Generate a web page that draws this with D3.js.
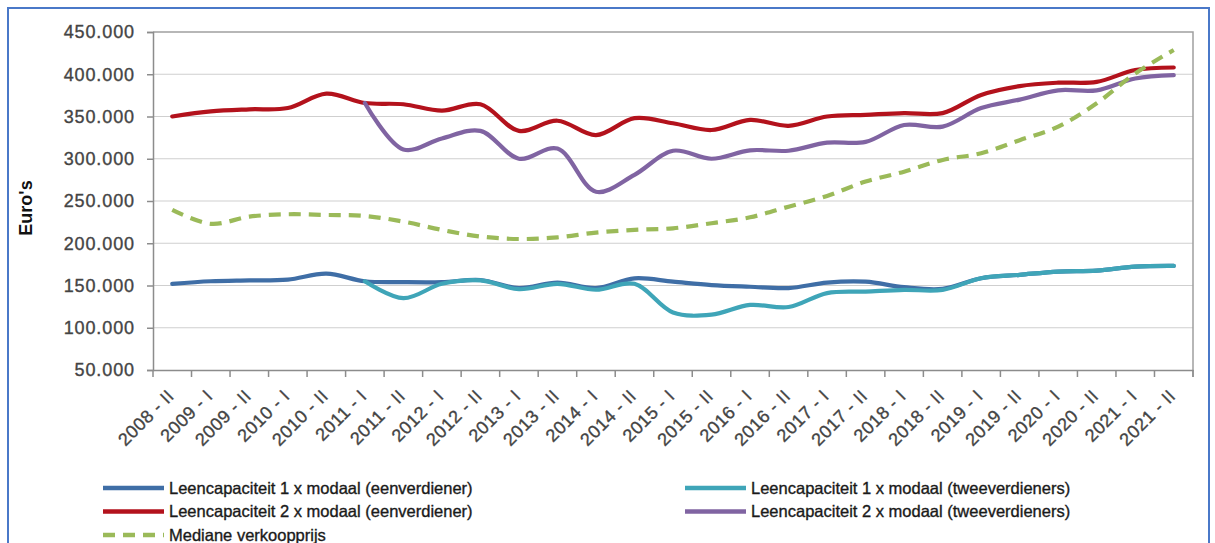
<!DOCTYPE html>
<html>
<head>
<meta charset="utf-8">
<script src="https://cdn.jsdelivr.net/npm/d3@7"></script>
<style>
  html, body { margin: 0; padding: 0; background: #fff; }
  svg { display: block; font-family: "Liberation Sans", Arial, sans-serif; }
</style>
</head>
<body>
<svg id="chart" width="1215" height="543"></svg>
<script>
// Half-year periods on the category axis
const periods = [
  "2008 - II", "2009 - I", "2009 - II", "2010 - I", "2010 - II", "2011 - I", "2011 - II",
  "2012 - I", "2012 - II", "2013 - I", "2013 - II", "2014 - I", "2014 - II", "2015 - I",
  "2015 - II", "2016 - I", "2016 - II", "2017 - I", "2017 - II", "2018 - I", "2018 - II",
  "2019 - I", "2019 - II", "2020 - I", "2020 - II", "2021 - I", "2021 - II"
];

// Borrowing capacity, one earner, 1x modal income
const leen1xEen = [152000, 155000, 156000, 157000, 164000, 155000, 154000, 154000, 156500,
  147000, 153500, 147000, 158500, 154500, 150500, 148500, 147000, 153500, 154500, 148000,
  146000, 158600, 162600, 166500, 167700, 172400, 173200];
// Borrowing capacity, two earners, 1x modal income (series starts 2011 - I)
const leen1xTwee = [null, null, null, null, null, 155000, 135000, 152000, 156000,
  145600, 152000, 145000, 152000, 118000, 115500, 127000, 124500, 141000, 142800, 144800,
  144800, 158600, 162600, 166500, 167700, 172400, 173200];
// Borrowing capacity, one earner, 2x modal income
const leen2xEen = [350000, 356000, 358500, 360000, 377000, 366000, 364500, 357000, 364500,
  333000, 345000, 328000, 348000, 342000, 334000, 346000, 339000, 350000, 352000, 354000,
  354000, 375500, 386000, 390000, 391000, 405000, 408000];
// Borrowing capacity, two earners, 2x modal income (series starts 2011 - I)
const leen2xTwee = [null, null, null, null, null, 366000, 311000, 324000, 333000,
  300000, 312000, 261000, 281000, 309500, 300000, 310000, 309500, 319000, 320000, 340000,
  338000, 360000, 370000, 381000, 381000, 395000, 399000];
// Median sales price
const medianePrijs = [239500, 223000, 231500, 234300, 233500, 232300, 225600, 215800, 208000,
  205000, 207000, 212600, 215800, 217700, 223700, 230700, 243300, 256000, 273000, 284700,
  298600, 306500, 322000, 338000, 365600, 401000, 428700];

const yTickValues = [50000, 100000, 150000, 200000, 250000, 300000, 350000, 400000, 450000];

const seriesNames = [
  "Leencapaciteit 1 x modaal (eenverdiener)",
  "Leencapaciteit 1 x modaal (tweeverdieners)",
  "Leencapaciteit 2 x modaal (eenverdiener)",
  "Leencapaciteit 2 x modaal (tweeverdieners)",
  "Mediane verkoopprijs"
];
const seriesColors = ["#3f6ea6", "#3fa5b8", "#b3121c", "#8064a2", "#9bba59"];

const allSeries = [
  { values: leen1xEen, color: seriesColors[0], dash: null },
  { values: leen1xTwee, color: seriesColors[1], dash: null },
  { values: leen2xEen, color: seriesColors[2], dash: null },
  { values: leen2xTwee, color: seriesColors[3], dash: null },
  { values: medianePrijs, color: seriesColors[4], dash: "12,8" }
];
// Later series sit on top where the lines overlap
const drawOrder = [2, 0, 3, 1, 4].map(i => allSeries[i]);

const svg = d3.select("#chart");

// Outer frame
svg.append("rect")
  .attr("x", 8).attr("y", 8).attr("width", 1201).attr("height", 560)
  .attr("fill", "none").attr("stroke", "#4a78c8").attr("stroke-width", 2);

const plot = { left: 153, right: 1193, top: 32, bottom: 370 };

const x = d3.scaleBand().domain(periods).range([plot.left, plot.right]).paddingInner(0).paddingOuter(0);
const y = d3.scaleLinear().domain([50000, 450000]).range([plot.bottom, plot.top]);

const nl = d3.formatLocale({ decimal: ",", thousands: ".", grouping: [3], currency: ["€", ""] });
const fmt = nl.format(",");

// Horizontal gridlines
svg.append("g")
  .selectAll("line")
  .data(yTickValues.filter(v => v > 50000 && v < 450000))
  .join("line")
  .attr("x1", plot.left).attr("x2", plot.right)
  .attr("y1", d => y(d)).attr("y2", d => y(d))
  .attr("stroke", "#cfcfcf").attr("stroke-width", 1.2);

// Top and right frame of the plot area
svg.append("path")
  .attr("d", `M${plot.left},${y(450000)}H${plot.right}V${plot.bottom + 7}`)
  .attr("fill", "none").attr("stroke", "#a0a0a0").attr("stroke-width", 1.5);

const labelStyle = sel => sel
  .attr("font-size", 18).attr("fill", "#444")
  .attr("stroke", "#444").attr("stroke-width", 0.35)
  .attr("font-family", "Liberation Sans, Arial, sans-serif");

// Y axis
const yAxis = d3.axisLeft(y).tickValues(yTickValues).tickFormat(fmt).tickSize(6).tickPadding(12);
const gy = svg.append("g").attr("transform", `translate(${plot.left},0)`).call(yAxis);
gy.select(".domain").attr("stroke", "#8c8c8c").attr("stroke-width", 1.5);
gy.selectAll(".tick line").attr("stroke", "#8c8c8c").attr("stroke-width", 1.5);
gy.selectAll(".tick text").call(labelStyle).attr("letter-spacing", "0.9px");

// X axis: line, tick marks between categories, rotated labels at category centres
const xAxis = d3.axisBottom(x).tickSize(0).tickPadding(0);
const gx = svg.append("g").attr("transform", `translate(0,${plot.bottom})`).call(xAxis);
gx.select(".domain").attr("stroke", "#8c8c8c").attr("stroke-width", 1.5);
gx.selectAll(".tick text")
  .call(labelStyle)
  .attr("letter-spacing", "0.5px")
  .attr("text-anchor", "end")
  .attr("dy", 0)
  .attr("transform", "translate(3,27) rotate(-45)");

const boundaries = periods.map(p => x(p)).concat([plot.right]);
svg.append("g")
  .selectAll("line")
  .data(boundaries)
  .join("line")
  .attr("x1", d => d).attr("x2", d => d)
  .attr("y1", plot.bottom).attr("y2", plot.bottom + 7)
  .attr("stroke", "#8c8c8c").attr("stroke-width", 1.5);

// Y axis title
svg.append("text")
  .attr("transform", "translate(32,208) rotate(-90)")
  .attr("text-anchor", "middle")
  .attr("font-size", 18).attr("font-weight", "bold").attr("fill", "#111")
  .text("Euro's");

// Lines
const line = d3.line()
  .defined(d => d != null)
  .x((d, i) => x(periods[i]) + x.bandwidth() / 2)
  .y(d => y(d))
  .curve(d3.curveCatmullRom.alpha(0.5));

svg.append("g")
  .selectAll("path")
  .data(drawOrder)
  .join("path")
  .attr("d", s => line(s.values))
  .attr("fill", "none")
  .attr("stroke", s => s.color)
  .attr("stroke-width", 4.2)
  .attr("stroke-linejoin", "round")
  .attr("stroke-linecap", s => s.dash ? "butt" : "round")
  .attr("stroke-dasharray", s => s.dash);

// Legend
const legendItems = [
  { name: seriesNames[0], color: seriesColors[0], dash: null, x: 103, y: 488 },
  { name: seriesNames[1], color: seriesColors[1], dash: null, x: 685, y: 488 },
  { name: seriesNames[2], color: seriesColors[2], dash: null, x: 103, y: 511.5 },
  { name: seriesNames[3], color: seriesColors[3], dash: null, x: 685, y: 511.5 },
  { name: seriesNames[4], color: seriesColors[4], dash: "12,8", x: 103, y: 535 }
];
const lg = svg.append("g").selectAll("g").data(legendItems).join("g")
  .attr("transform", d => `translate(${d.x},${d.y})`);
lg.append("line")
  .attr("x1", 0).attr("x2", 61).attr("y1", 0).attr("y2", 0)
  .attr("stroke", d => d.color).attr("stroke-width", 4.4)
  .attr("stroke-dasharray", d => d.dash);
lg.append("text")
  .attr("x", 66).attr("y", 0).attr("dy", "0.35em")
  .attr("font-size", 16.5).attr("fill", "#1a1a1a")
  .attr("stroke", "#1a1a1a").attr("stroke-width", 0.35)
  .text(d => d.name);
</script>
</body>
</html>
